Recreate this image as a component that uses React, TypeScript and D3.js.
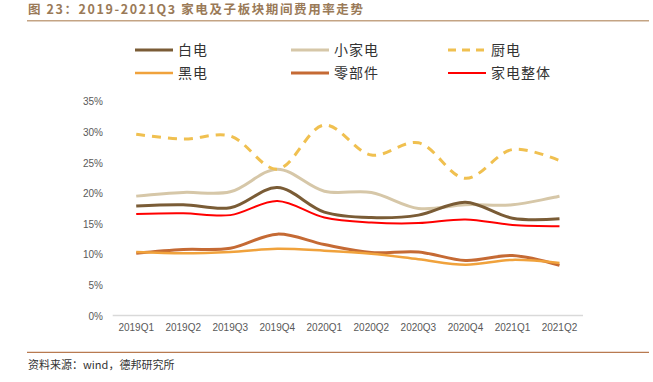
import React from "react";
import * as d3 from "d3";

const categories = ["2019Q1", "2019Q2", "2019Q3", "2019Q4", "2020Q1", "2020Q2", "2020Q3", "2020Q4", "2021Q1", "2021Q2"];
const baiDian = [18.0, 18.2, 17.7, 21.0, 17.0, 16.1, 16.5, 18.6, 16.0, 15.9];
const xiaoJiaDian = [19.6, 20.2, 20.3, 24.0, 20.4, 20.2, 17.6, 18.2, 18.2, 19.6];
const chuDian = [29.7, 28.9, 29.4, 24.0, 31.2, 26.3, 28.3, 22.5, 27.2, 25.4];
const heiDian = [10.5, 10.3, 10.5, 11.0, 10.7, 10.2, 9.3, 8.4, 9.2, 8.7];
const lingBuJian = [10.3, 10.9, 11.1, 13.4, 11.7, 10.4, 10.5, 9.1, 9.9, 8.3];
const jiaDianZhengTi = [16.7, 16.8, 16.5, 18.8, 16.1, 15.3, 15.2, 15.8, 14.9, 14.7];
const yTicks = [0, 5, 10, 15, 20, 25, 30, 35];

const series = [
  { name: "白电", values: baiDian, color: "#7a5c36", width: 3, dash: "" },
  { name: "小家电", values: xiaoJiaDian, color: "#d6c7a8", width: 3, dash: "" },
  { name: "厨电", values: chuDian, color: "#f0c050", width: 3, dash: "9,7" },
  { name: "黑电", values: heiDian, color: "#f0a23c", width: 2.5, dash: "" },
  { name: "零部件", values: lingBuJian, color: "#c56a34", width: 3, dash: "" },
  { name: "家电整体", values: jiaDianZhengTi, color: "#ff0000", width: 2, dash: "" },
];

export default function App() {
  const W = 653, H = 382;
  const x = d3.scaleBand<string>().domain(categories).range([112.7, 583]);
  const y = d3.scaleLinear().domain([0, 35]).range([316.3, 101.7]);
  const line = d3.line<number>()
    .x((_, i) => (x(categories[i]) as number) + x.bandwidth() / 2)
    .y((d) => y(d))
    .curve(d3.curveCatmullRom.alpha(0.5));
  const drawOrder = [4, 3, 1, 0, 5, 2];
  const legendPos = [
    [135, 50], [291, 50], [448, 50],
    [135, 73], [291, 73], [448, 73],
  ];
  return (
    <svg width={W} height={H} style={{ position: "absolute", left: 0, top: 0, background: "#fff" }}>
      <text x={28} y={14} fontFamily="Noto Sans CJK SC" fontWeight="bold" fontSize={12.5} letterSpacing={1.6} fill="#9a7a58">
        图 23：2019-2021Q3 家电及子板块期间费用率走势
      </text>
      <line x1={27} x2={649} y1={20.7} y2={20.7} stroke="#c4a484" strokeWidth={1.5} />
      {series.map((s, k) => {
        const [lx, ly] = legendPos[k];
        return (
          <g key={s.name}>
            <line x1={lx} x2={lx + 38} y1={ly} y2={ly} stroke={s.color} strokeWidth={s.width}
              strokeDasharray={s.dash ? "8,6" : undefined} />
            <text x={lx + 43} y={ly + 5} fontFamily="Noto Sans CJK SC" fontSize={14} letterSpacing={1} fill="#333">{s.name}</text>
          </g>
        );
      })}
      {yTicks.map((t) => (
        <text key={t} x={103} y={y(t) + 3.5} textAnchor="end" fontFamily="Liberation Sans" fontSize={10} fill="#595959">
          {t}%
        </text>
      ))}
      <line x1={112.7} x2={583} y1={315.5} y2={315.5} stroke="#d9d9d9" strokeWidth={1.5} />
      {categories.map((c) => (
        <text key={c} x={(x(c) as number) + x.bandwidth() / 2} y={331} textAnchor="middle"
          fontFamily="Liberation Sans" fontSize={10} fill="#595959">{c}</text>
      ))}
      {drawOrder.map((si) => {
        const s = series[si];
        return (
          <path key={s.name} d={line(s.values) || ""} fill="none" stroke={s.color} strokeWidth={s.width}
            strokeDasharray={s.dash || undefined} strokeLinecap="butt" />
        );
      })}
      <line x1={27} x2={649} y1={352.3} y2={352.3} stroke="#b87a50" strokeWidth={1.2} />
      <text x={28} y={369} fontFamily="Noto Sans CJK SC" fontSize={11} fill="#333">资料来源：wind，德邦研究所</text>
    </svg>
  );
}
